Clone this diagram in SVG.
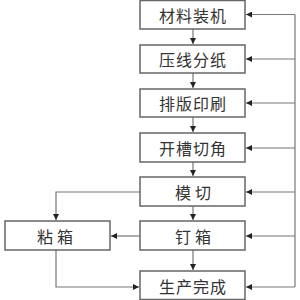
<svg xmlns="http://www.w3.org/2000/svg" width="300" height="300" viewBox="0 0 300 300">
<defs>
<marker id="ah" markerWidth="6" markerHeight="6" refX="6" refY="3" orient="auto" markerUnits="userSpaceOnUse">
<path d="M0,0 L6,3 L0,6 Z" fill="#222"/>
</marker>
<style>
.box{fill:#fff;stroke:#666;stroke-width:1.5}
.t{font-family:"Noto Sans CJK SC",sans-serif;font-size:16px;fill:#333;text-anchor:middle;dominant-baseline:central;letter-spacing:1px}
.w{letter-spacing:4px}
.c{fill:none;stroke:#777;stroke-width:1.2}
</style>
</defs>
<rect width="300" height="300" fill="#fff"/>
<g id="connectors">
<path class="c" d="M193,29 V44" marker-end="url(#ah)"/>
<path class="c" d="M193,73 V88" marker-end="url(#ah)"/>
<path class="c" d="M193,117 V132" marker-end="url(#ah)"/>
<path class="c" d="M193,162 V176" marker-end="url(#ah)"/>
<path class="c" d="M193,206 V220" marker-end="url(#ah)"/>
<path class="c" d="M193,250 V270" marker-end="url(#ah)"/>
<path class="c" d="M295,14.5 V287"/>
<path class="c" d="M295,14.5 H246" marker-end="url(#ah)"/>
<path class="c" d="M295,59 H246" marker-end="url(#ah)"/>
<path class="c" d="M295,103 H246" marker-end="url(#ah)"/>
<path class="c" d="M295,148 H246" marker-end="url(#ah)"/>
<path class="c" d="M295,192 H246" marker-end="url(#ah)"/>
<path class="c" d="M295,236 H246" marker-end="url(#ah)"/>
<path class="c" d="M295,287 H246" marker-end="url(#ah)"/>
<path class="c" d="M140,192 H56 V220" marker-end="url(#ah)"/>
<path class="c" d="M140,236 H111" marker-end="url(#ah)"/>
<path class="c" d="M56,250 V287 H139" marker-end="url(#ah)"/>
</g>
<g id="n1"><rect class="box" x="140" y="0.5" width="105" height="28.5"/><text class="t" x="193" y="15">材料装机</text></g>
<g id="n2"><rect class="box" x="140" y="45" width="105" height="28"/><text class="t" x="193" y="59">压线分纸</text></g>
<g id="n3"><rect class="box" x="140" y="89" width="105" height="28"/><text class="t" x="193" y="103">排版印刷</text></g>
<g id="n4"><rect class="box" x="140" y="133" width="105" height="29"/><text class="t" x="193" y="148">开槽切角</text></g>
<g id="n5"><rect class="box" x="140" y="177" width="105" height="29"/><text class="t w" x="195" y="192">模切</text></g>
<g id="n6"><rect class="box" x="140" y="221" width="105" height="29"/><text class="t w" x="195" y="236">钉箱</text></g>
<g id="n7"><rect class="box" x="5" y="221" width="105" height="29"/><text class="t w" x="57" y="236">粘箱</text></g>
<g id="n8"><rect class="box" x="140" y="271" width="105" height="28.5"/><text class="t" x="193" y="286">生产完成</text></g>
</svg>
